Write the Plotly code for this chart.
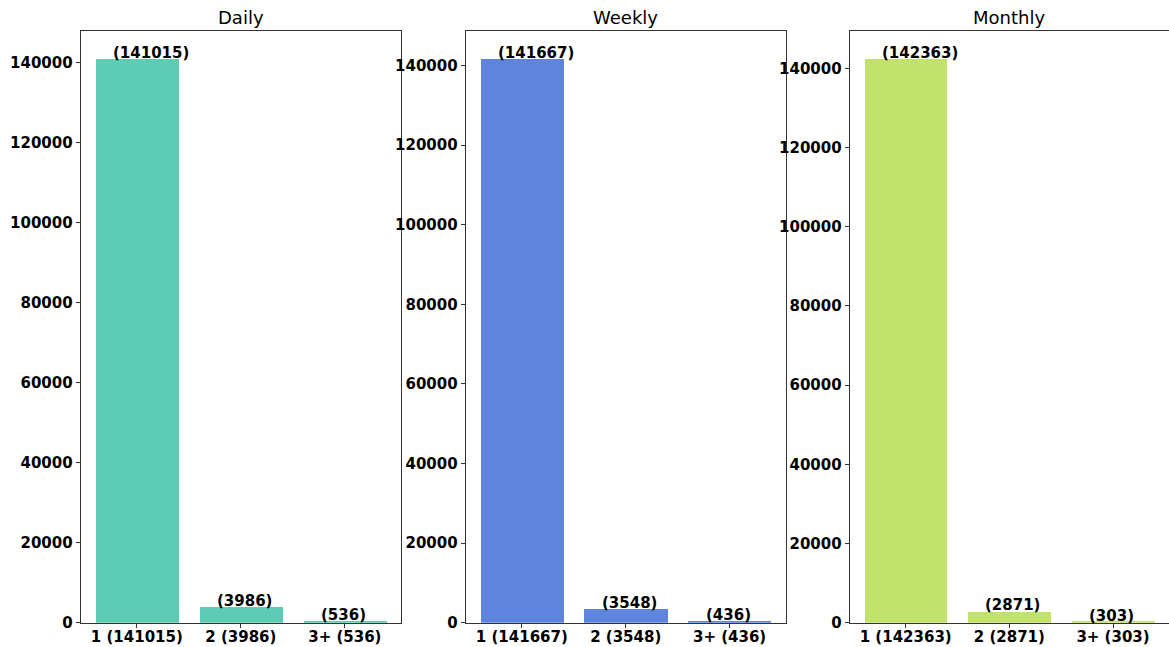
import plotly.graph_objects as go

# Counts per group size, one panel per period
categories = ["1", "2", "3+"]
daily = [141015, 3986, 536]
weekly = [141667, 3548, 436]
monthly = [142363, 2871, 303]

panels = [
    ("Daily", daily, "#5ccdb4"),
    ("Weekly", weekly, "#5f84dc"),
    ("Monthly", monthly, "#c2e36b"),
]

W, H = 1169, 647
# panel boxes in pixels: (left, right)
boxes = [(80.7, 401.0), (465.7, 785.7), (849.7, 1169.0)]
top_px, bot_px = 30.7, 622.7

tick_font = dict(family="DejaVu Sans", size=15, color="black", weight="bold")

fig = go.Figure()
annotations = []

for i, ((title, values, color), (l, r)) in enumerate(zip(panels, boxes)):
    n = "" if i == 0 else str(i + 1)
    xa, ya = "x" + n, "y" + n
    xs = list(range(len(categories)))
    ticktext = [f"{c} ({v})" for c, v in zip(categories, values)]
    fig.add_trace(go.Bar(
        x=xs, y=values, width=0.8, marker=dict(color=color, line=dict(width=0)),
        xaxis=xa, yaxis=ya, showlegend=False, hoverinfo="skip",
    ))
    fig.layout["xaxis" + n] = dict(
        domain=[l / W, min(r / W, 1.0)], range=[-0.54, 2.54], anchor=ya,
        tickmode="array", tickvals=xs, ticktext=ticktext, tickfont=tick_font,
        ticks="outside", ticklen=4, tickcolor="#333", ticklabelstandoff=-4,
        showgrid=False, zeroline=False,
        showline=True, linecolor="#333", linewidth=1, mirror=True, automargin=False,
    )
    fig.layout["yaxis" + n] = dict(
        domain=[(H - bot_px) / H, (H - top_px) / H], range=[0, max(values) * 1.05],
        anchor=xa, tickmode="linear", tick0=0, dtick=20000, tickformat="d",
        tickfont=tick_font, ticks="outside", ticklen=4, tickcolor="#333",
        showgrid=False, zeroline=False, showline=True, linecolor="#333", linewidth=1,
        mirror=(i < 2), automargin=False,
    )
    # value labels above each bar
    for x, v in zip(xs, values):
        annotations.append(dict(
            x=x - 0.25, y=v, xref=xa, yref=ya, text=f"({v})", showarrow=False,
            xanchor="left", yanchor="bottom", yshift=-5,
            font=dict(family="DejaVu Sans", size=15, color="black", weight="bold"),
        ))
    # panel title
    annotations.append(dict(
        x=(l + min(r, W)) / 2 / W, y=(H - top_px) / H, xref="paper", yref="paper",
        text=title, showarrow=False, xanchor="center", yanchor="bottom", yshift=1,
        font=dict(family="DejaVu Sans", size=18, color="black"),
    ))

fig.update_layout(
    width=W, height=H, margin=dict(l=0, r=0, t=0, b=0, autoexpand=False),
    paper_bgcolor="white", plot_bgcolor="white", bargap=0,
    annotations=annotations,
)

fig.write_html("out.html")
